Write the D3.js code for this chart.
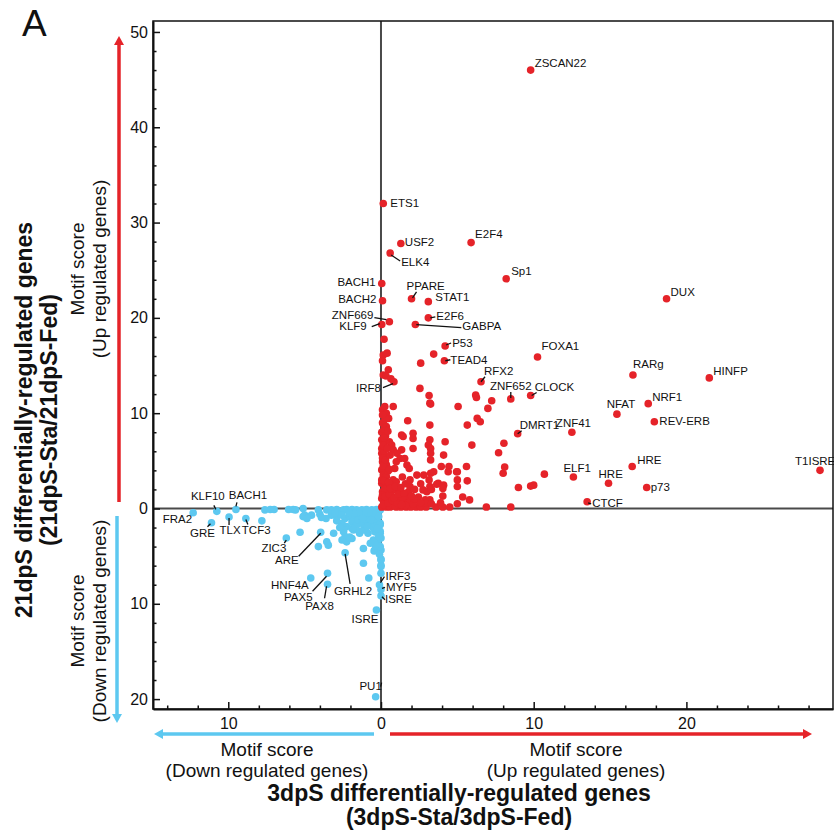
<!DOCTYPE html>
<html>
<head>
<meta charset="utf-8">
<script src="https://cdn.jsdelivr.net/npm/d3@7"></script>
<style>
body { margin: 0; background: #fff; }
svg text { font-family: "Liberation Sans", Arial, sans-serif; }
</style>
</head>
<body>
<script>
// labelled motifs, up regulated genes: [name, 3dpS score, 21dpS score]
var upLabeled = [
    ["ZSCAN22", 9.8, 46.0], ["ETS1", 0.15, 32.0], ["USF2", 1.3, 27.8], ["ELK4", 0.6, 26.8],
    ["E2F4", 5.9, 27.9], ["Sp1", 8.2, 24.1], ["DUX", 18.7, 22.0], ["BACH1", 0.05, 23.6],
    ["BACH2", 0.1, 21.8], ["PPARE", 2.0, 22.0], ["STAT1", 3.1, 21.7], ["ZNF669", 0.55, 19.6],
    ["KLF9", 0.05, 19.3], ["E2F6", 3.1, 20.0], ["GABPA", 2.25, 19.3], ["P53", 4.2, 17.05],
    ["TEAD4", 4.15, 15.5], ["FOXA1", 10.25, 15.9], ["RARg", 16.5, 14.0], ["HINFP", 21.5, 13.7],
    ["RFX2", 6.55, 13.3], ["IRF8", 0.85, 13.3], ["ZNF652", 8.5, 11.5], ["CLOCK", 9.8, 11.85],
    ["NFAT", 15.45, 9.9], ["NRF1", 17.5, 11.0], ["REV-ERB", 17.9, 9.1], ["DMRT1", 8.95, 7.85],
    ["ZNF41", 12.5, 8.0], ["ELF1", 12.6, 3.3], ["HRE", 16.45, 4.4], ["HRE", 14.9, 2.65],
    ["p73", 17.4, 2.2], ["CTCF", 13.5, 0.7], ["T1ISRE", 28.75, 4.0]
];
// other up regulated motifs [3dpS, 21dpS]
var upOther = [
    [7.25,11.3],[7.0,10.5],[6.5,9.1],[6.3,9.45],[6.2,11.9],[6.25,11.65],[8.05,6.85],[7.7,5.85],[8.1,4.35],[8.0,3.7],
    [10.7,3.6],[9.0,2.2],[9.8,2.35],[10.0,2.45],[6.9,0.15],[8.5,0.15],[3.45,16.2],[2.6,15.25],[0.2,17.75],[0.15,16.1],
    [0.4,16.3],[0.1,15.5],[0.48,14.55],[0.15,14.0],[0.33,13.9],[0.65,13.6],[2.55,12.6],[3.15,11.85],[3.2,11.05],[5.05,10.7],
    [0.1,10.35],[0.25,10.7],[0.8,10.7],[0.35,10.0],[0.5,9.45],[0.35,8.6],[1.75,9.2],[3.2,8.75],[5.65,8.75],[3.25,10.95],
    [1.35,7.7],[1.45,7.55],[2.1,7.9],[2.1,7.35],[0.05,7.2],[0.15,6.85],[0.55,7.0],[0.7,6.65],[3.2,7.2],[3.1,6.65],
    [3.25,6.3],[4.2,7.0],[5.95,6.65],[0.8,6.15],[1.35,6.15],[1.05,5.8],[2.1,6.3],[0.05,5.8],[0.25,5.45],[0.1,4.9],
    [3.25,5.8],[3.25,5.1],[4.1,5.6],[1.25,5.25],[1.0,4.9],[1.55,5.25],[1.7,4.55],[1.85,4.2],[0.9,4.2],[3.95,4.4],
    [4.45,4.4],[5.0,3.85],[5.6,4.4],[2.35,3.5],[2.8,3.5],[3.25,3.7],[3.45,3.85],[0.05,4.05],[0.15,3.5],[0.35,3.35],
    [0.8,3.0],[1.0,2.8],[3.15,3.0],[3.2,2.3],[3.75,2.65],[4.1,2.45],[4.05,2.1],[5.0,3.0],[5.0,2.3],[5.65,2.9],
    [0.05,2.65],[0.25,2.3],[0.1,1.75],[0.35,1.6],[1.8,1.75],[1.7,1.25],[2.75,1.95],[3.0,1.75],[3.3,2.0],[0.8,1.95],
    [1.2,1.75],[1.05,1.25],[2.45,1.2],[2.9,0.9],[3.2,0.9],[4.05,1.3],[5.35,1.2],[5.8,0.9],[0.05,1.05],[0.35,0.9],
    [0.6,0.7],[0.8,0.55],[1.25,0.7],[1.55,0.55],[1.9,0.7],[0.05,0.15],[0.35,0.15],[0.6,0.15],[1.0,0.15],[1.3,0.15],
    [1.65,0.15],[1.95,0.15],[2.3,0.15],[2.6,0.15],[2.95,0.15],[3.6,0.15],[4.05,0.15],[2.55,0.25],[2.9,0.55],[2.35,0.9],
    [3.65,2.55],[4.4,3.85],[4.95,3.85],[0.05,8.0],[0.2,8.3],[0.1,9.0],[0.3,7.6],[0.05,6.3],[0.2,6.0],[0.1,5.3],
    [0.35,4.6],[0.05,3.0],[0.25,2.0],[0.1,1.4],[0.4,1.2],[0.2,0.5],[0.5,0.3],[0.6,2.5],[0.7,1.3],[0.5,0.95],
    [1.1,0.35],[1.4,1.1],[1.6,0.3],[2.1,0.45],[2.2,1.0],[0.9,0.3],
    [0.15,0.4],[0.45,0.6],[0.75,0.85],[1.05,0.6],[1.35,0.4],[0.25,1.25],[0.55,1.5],[0.85,1.1],[1.15,1.5],[1.5,1.6],
    [0.2,2.9],[0.5,2.75],[0.45,3.9],[0.15,4.45],[0.55,4.1],[0.3,5.1],[0.6,5.6],[0.15,6.6],[0.4,6.3],[0.2,7.4],
    [0.45,8.1],[0.15,8.9],[0.3,9.4],[0.1,9.8],[0.6,2.1],[0.95,2.3],[1.3,2.2],[1.6,2.6],[1.9,2.3],[2.2,2.0],
    [1.4,3.3],[1.9,3.0],[2.6,2.6],[2.0,1.3],[2.6,0.6],[3.3,0.5],[3.9,0.6],[4.5,0.15],[5.0,0.5]
];
// labelled motifs, down regulated genes (scores are plotted downward / leftward)
var downLabeled = [
    ["FRA2", 12.3, 0.45], ["KLF10", 10.75, 0.3], ["BACH1", 9.5, 0.1], ["GRE", 11.1, 1.5],
    ["TLX", 9.95, 0.9], ["TCF3", 8.85, 1.05], ["ZIC3", 6.2, 3.1], ["ARE", 3.95, 2.5],
    ["GRHL2", 2.35, 4.65], ["HNF4A", 4.6, 7.3], ["PAX5", 3.5, 6.8], ["PAX8", 3.5, 7.95],
    ["IRF3", 0.1, 8.0], ["MYF5", 0.0, 8.5], ["ISRE", 0.0, 9.15], ["ISRE", 0.3, 10.65], ["PU1", 0.35, 19.75]
];
var downOther = [
    [7.8,1.3],[7.6,0.15],[7.25,0.1],[7.0,0.1],[6.05,0.1],[5.75,0.1],[5.6,0.15],[5.1,0.0],[5.0,0.7],[4.55,0.7],
    [4.1,0.15],[4.0,0.6],[3.55,0.15],[3.25,0.15],[2.9,0.1],[2.7,0.3],[2.45,0.15],[2.25,0.1],[1.9,0.1],[1.6,0.15],
    [1.25,0.15],[0.95,0.1],[0.6,0.15],[0.3,0.1],[0.05,0.15],[5.1,0.85],[4.85,1.05],[3.25,0.7],[2.9,0.85],[2.55,0.7],
    [2.35,1.05],[2.05,0.85],[1.7,1.05],[1.4,0.85],[1.05,1.05],[0.7,0.85],[0.4,0.85],[2.55,1.55],[2.25,1.9],[1.9,1.4],
    [1.6,1.75],[1.25,1.55],[0.95,1.4],[0.6,1.55],[0.3,1.2],[0.05,1.55],[5.3,2.5],[2.45,2.45],[1.9,2.1],[2.35,2.95],
    [1.9,3.15],[1.4,2.6],[0.85,2.6],[0.4,2.45],[0.05,2.6],[0.5,3.3],[0.2,3.5],[3.55,3.5],[3.45,3.85],[4.1,4.0],
    [2.55,3.3],[2.25,3.5],[2.05,3.15],[1.15,4.2],[0.4,4.35],[0.0,4.35],[0.0,5.4],[0.0,5.95],[1.15,5.75],[0.8,7.3],
    [2.05,3.0],[1.8,2.25],[1.4,2.4],[1.15,2.25],[0.5,2.05],[0.3,1.85],[0.05,1.7],[0.05,2.4],[0.0,3.1],[0.05,4.0],
    [0.0,5.3],[0.0,6.1],[0.0,6.8],[3.6,1.05],[2.9,1.3],[1.5,1.2],[1.15,1.65],[2.45,2.25],[0.45,4.45],
    [0.2,0.45],[0.5,0.5],[0.8,0.45],[1.1,0.5],[1.45,0.45],[1.75,0.5],[2.1,0.45],[0.15,0.85],[0.25,2.1],[0.65,1.2],
    [0.9,1.9],[1.2,1.05],[0.15,2.95],[0.35,3.9],[0.7,3.65],[0.1,4.8],[3.0,0.45],[3.9,0.95],[2.7,2.0],[3.1,2.6]
];
var yTicks = [-20, -10, 0, 10, 20, 30, 40, 50];
var xTicks = [-10, 0, 10, 20];

// label placement (pixel offsets from the dot), same order as the labelled arrays
var upLayout = [
    [4,-3,"start"],[7,3,"start"],[4,2,"start"],[11,13,"start",[1,2,10,8]],
    [4,-5,"start"],[5,-4,"start"],[4,-3,"start"],[-6,2,"end"],
    [-6,2,"end"],[-5,-9,"start",[1,-1,5,-7]],[7,-1,"start"],[-16,-3,"end",[-15,-4,-3,-2]],
    [-15,5,"end",[-10,2,-2,-1]],[8,2,"start",[2,0,7,-1]],[47,5,"start",[1,0,46,3]],[7,1,"start",[1,-1,6,-3]],
    [6,3,"start",[1,0,6,-1]],[4,-7,"start"],[0,-7,"start"],[4,-3,"start"],
    [3,-7,"start",[0,0,4,-5]],[-13,10,"end",[-11,6,-1,2]],[0,-9,"middle",[0,-1,0,-7]],[4,-5,"start",[1,0,6,-3]],
    [4,-6,"middle"],[4,-3,"start"],[5,3,"start"],[2,-5,"start",[0,0,4,-3]],
    [-16,-5,"start"],[-10,-5,"start"],[5,-3,"start"],[-10,-5,"start"],
    [4,3,"start"],[5,5,"start",[1,1,4,2]],[-25,-5,"start"]
];
var downLayout = [
    [-1,10,"end"],[-9,-11,"middle",[-1,-2,-3,-6]],[12,-10,"middle",[0,-3,1,-7]],[-9,14,"middle",[-1,1,-4,4]],
    [1,17,"middle",[0,1,0,8]],[-4,16,"start",[0,1,2,6]],[0,14,"end",[0,2,-2,5]],[-22,32,"end",[0,1,-22,24]],
    [8,42,"middle",[0,1,5,31]],[-2,11,"end"],[-15,28,"end",[-1,3,-15,18]],[-8,26,"middle",[-1,2,-3,14]],
    [6,-5,"start",[1,-2,5,-8]],[5,2,"start",[1,-1,4,-2]],[4,7,"start",[1,1,4,4]],[2,13,"end"],[-5,-7,"middle",[5,-10,6,-14]]
];

var width = 834, height = 840;
var plot = {left: 153, right: 833, top: 21, bottom: 709};
var red = "#e52329", blue = "#5dc8f0";

var svg = d3.select("body").append("svg")
    .attr("width", width)
    .attr("height", height);

var x = d3.scaleLinear().domain([-14.93, 29.6]).range([plot.left, plot.right]);
var y = d3.scaleLinear().domain([-21.04, 51.15]).range([plot.bottom, plot.top]);

// zero lines
svg.append("line")
    .attr("x1", x(0)).attr("x2", x(0))
    .attr("y1", plot.top).attr("y2", plot.bottom)
    .attr("stroke", "#4a4a4a").attr("stroke-width", 2);
svg.append("line")
    .attr("x1", plot.left).attr("x2", plot.right)
    .attr("y1", y(0)).attr("y2", y(0))
    .attr("stroke", "#4a4a4a").attr("stroke-width", 2);

// down regulated points go to the negative side of both axes
var downAll = downOther.concat(downLabeled.map(d => [d[1], d[2]]));
svg.append("g").selectAll("circle")
    .data(downAll)
    .enter().append("circle")
    .attr("cx", d => x(-d[0]))
    .attr("cy", d => y(-d[1]))
    .attr("r", 3.8)
    .attr("fill", blue);

var upAll = upOther.concat(upLabeled.map(d => [d[1], d[2]]));
svg.append("g").selectAll("circle")
    .data(upAll)
    .enter().append("circle")
    .attr("cx", d => x(d[0]))
    .attr("cy", d => y(d[1]))
    .attr("r", 3.8)
    .attr("fill", red);

function drawLabels(list, layout, sign) {
    var g = svg.append("g");
    list.forEach(function (d, i) {
        var px = x(sign * d[1]), py = y(sign * d[2]);
        var lay = layout[i];
        if (lay[3]) {
            g.append("line")
                .attr("x1", px + lay[3][0]).attr("y1", py + lay[3][1])
                .attr("x2", px + lay[3][2]).attr("y2", py + lay[3][3])
                .attr("stroke", "#111").attr("stroke-width", 1.3);
        }
        g.append("text")
            .attr("x", px + lay[0])
            .attr("y", py + lay[1])
            .attr("text-anchor", lay[2])
            .attr("font-size", 11.5)
            .attr("fill", "#111")
            .text(d[0]);
    });
}
drawLabels(upLabeled, upLayout, 1);
drawLabels(downLabeled, downLayout, -1);

// axes, ticks inside the frame
function styleAxis(g) {
    g.selectAll("text").attr("font-family", "'Liberation Sans', Arial, sans-serif")
        .attr("font-size", 16).attr("fill", "#111");
    g.selectAll("line").attr("stroke", "#111").attr("stroke-width", 1.5);
    g.select(".domain").attr("stroke", "#111").attr("stroke-width", 2);
}
svg.append("g")
    .attr("transform", "translate(" + plot.left + ",0)")
    .call(d3.axisLeft(y).tickValues(yTicks).tickSize(-7).tickSizeOuter(0).tickPadding(5)
        .tickFormat(d => Math.abs(d)))
    .call(styleAxis);
svg.append("g")
    .attr("transform", "translate(" + plot.left + ",0)")
    .call(d3.axisLeft(y).tickValues(d3.range(-20, 51, 2).filter(v => v % 10 !== 0))
        .tickSize(-3.5).tickFormat(""))
    .call(styleAxis)
    .select(".domain").remove();
svg.append("g")
    .attr("transform", "translate(0," + plot.bottom + ")")
    .call(d3.axisBottom(x).tickValues(xTicks).tickSize(-7).tickSizeOuter(0).tickPadding(9)
        .tickFormat(d => Math.abs(d)))
    .call(styleAxis);
svg.append("g")
    .attr("transform", "translate(0," + plot.bottom + ")")
    .call(d3.axisBottom(x).tickValues(d3.range(-14, 29, 2).filter(v => v % 10 !== 0))
        .tickSize(-3.5).tickFormat(""))
    .call(styleAxis)
    .select(".domain").remove();

svg.append("rect")
    .attr("x", plot.left).attr("y", plot.top)
    .attr("width", plot.right - plot.left).attr("height", plot.bottom - plot.top)
    .attr("fill", "none").attr("stroke", "#111").attr("stroke-width", 1.5);

// direction arrows
function arrow(x1, y1, x2, y2, color) {
    var ang = Math.atan2(y2 - y1, x2 - x1), len = 9, half = 5;
    var bx = x2 - len * Math.cos(ang), by = y2 - len * Math.sin(ang);
    svg.append("line")
        .attr("x1", x1).attr("y1", y1).attr("x2", bx).attr("y2", by)
        .attr("stroke", color).attr("stroke-width", 3.5);
    svg.append("path")
        .attr("d", "M" + x2 + "," + y2 +
            "L" + (bx + half * Math.sin(ang)) + "," + (by - half * Math.cos(ang)) +
            "L" + (bx - half * Math.sin(ang)) + "," + (by + half * Math.cos(ang)) + "Z")
        .attr("fill", color);
}
arrow(119, 502, 119, 36, red);
arrow(117, 516, 117, 723, blue);
arrow(374, 734, 154, 734, blue);
arrow(390, 734, 812, 734, red);

// titles
function label(tx, ty, rot, txt, size, weight) {
    svg.append("text")
        .attr("transform", "translate(" + tx + "," + ty + ")" + (rot ? " rotate(-90)" : ""))
        .attr("text-anchor", "middle")
        .attr("font-size", size)
        .attr("font-weight", weight || "normal")
        .attr("fill", "#111")
        .text(txt);
}
label(84, 269, true, "Motif score", 19);
label(106, 269, true, "(Up regulated genes)", 19);
label(84, 621, true, "Motif score", 19);
label(106, 621, true, "(Down regulated genes)", 19);
label(32, 420, true, "21dpS differentially-regulated genes", 23, "bold");
label(57, 420, true, "(21dpS-Sta/21dpS-Fed)", 23, "bold");
label(267, 756, false, "Motif score", 19);
label(267, 777, false, "(Down regulated genes)", 19);
label(576, 756, false, "Motif score", 19);
label(576, 777, false, "(Up regulated genes)", 19);
label(459, 801, false, "3dpS differentially-regulated genes", 23, "bold");
label(459, 825, false, "(3dpS-Sta/3dpS-Fed)", 23, "bold");

svg.append("text")
    .attr("x", 22).attr("y", 36)
    .attr("font-size", 37)
    .attr("fill", "#111")
    .text("A");
</script>
</body>
</html>
